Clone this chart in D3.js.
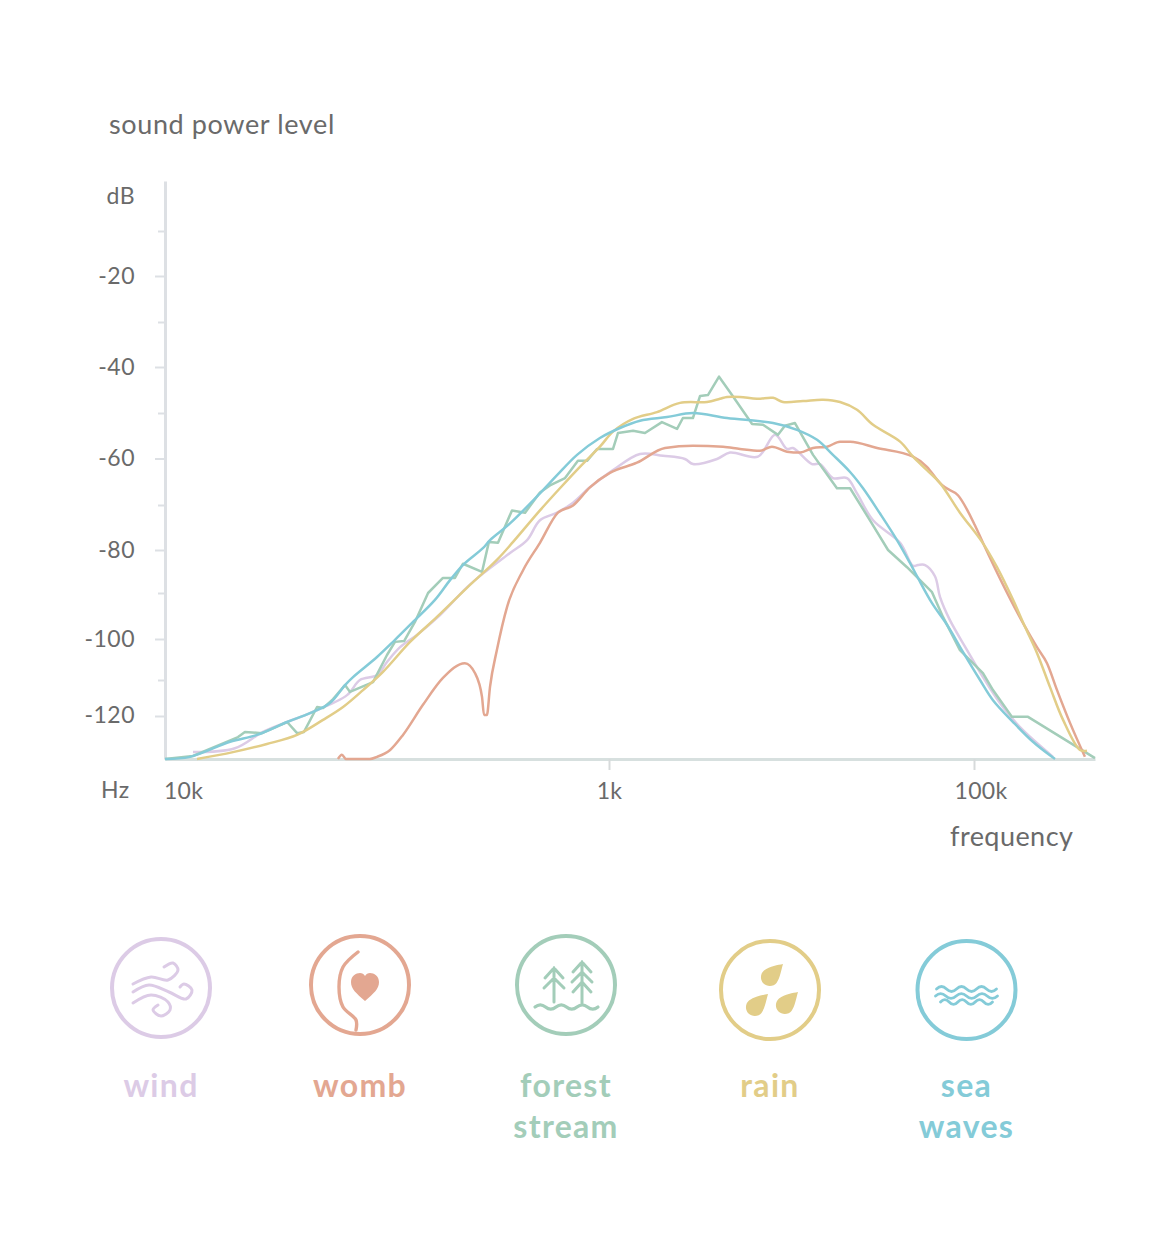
<!DOCTYPE html>
<html><head><meta charset="utf-8">
<script src="https://cdn.jsdelivr.net/npm/d3@7/dist/d3.min.js"></script>
<style>html,body{margin:0;background:#fff}svg{display:block}text{font-family:Lato,sans-serif}</style>
</head><body><div id="c"></div>
<script>
// x values are log10(Hz) positions, y values dB
const windX=[1.126,1.315,1.441,1.55,1.653,1.82,1.878,1.955,2,2.059,2.135,2.239,2.36,2.432,2.554,2.631,2.689,2.766,2.838,2.914,3.022,3.17,3.296,3.416,3.46,3.592,3.663,3.816,3.91,3.975,4.008,4.112,4.156,4.227,4.304,4.359,4.447,4.595,4.666,4.693,4.732,4.786,4.814,4.868,4.962,5.049,5.142,5.252,5.433];
const windDb=[-128.4,-127.5,-123.7,-121.4,-119.2,-114.2,-110,-108.8,-105.6,-102,-99.1,-94.8,-88.7,-85.5,-80.7,-77.8,-73.4,-71.7,-69.5,-66.2,-62.5,-59,-59.4,-60.1,-61.2,-60.1,-58.7,-59.6,-54.8,-57.9,-57.7,-61.2,-61.2,-64.2,-64.2,-67.5,-73.4,-78.4,-83.7,-83.5,-83.5,-86.1,-90.9,-95.9,-102.7,-109.3,-116.4,-122.6,-129.5];
const wombX=[1.779,1.797,1.815,1.923,1.955,2.014,2.072,2.162,2.252,2.351,2.396,2.428,2.437,2.45,2.464,2.495,2.541,2.613,2.689,2.77,2.838,2.914,3.005,3.153,3.307,3.46,3.625,3.718,3.827,3.893,3.975,4.047,4.118,4.195,4.266,4.321,4.469,4.666,4.742,4.814,4.841,4.912,5.005,5.049,5.268,5.345,5.4,5.455,5.526,5.608];
const wombDb=[-130,-129,-130,-130,-129.5,-127.9,-124.4,-116.9,-109.5,-105.9,-108.3,-114.7,-119.7,-119.7,-111.9,-102.7,-93,-84.7,-78.4,-71.7,-70.1,-66.2,-63.1,-60.9,-57.7,-57.2,-57.4,-57.9,-58.3,-57.4,-58.5,-58.7,-57.7,-57.4,-56.3,-56.3,-57.7,-59.6,-61.8,-65.3,-66.2,-67.9,-74.5,-78.4,-96.5,-102,-105.9,-112.8,-121.6,-129.5];
const forestX=[1,1.126,1.329,1.36,1.437,1.55,1.595,1.626,1.685,1.712,1.757,1.811,1.833,1.937,2,2.036,2.077,2.126,2.185,2.252,2.306,2.342,2.428,2.459,2.5,2.563,2.622,2.689,2.734,2.802,2.86,2.901,2.946,3.022,3.049,3.132,3.197,3.29,3.373,3.405,3.46,3.499,3.542,3.603,3.674,3.784,3.844,3.926,3.964,4.019,4.118,4.249,4.321,4.43,4.529,4.633,4.77,4.83,4.923,5.049,5.104,5.208,5.296,5.663];
const forestDb=[-130,-129.3,-124.9,-123.7,-124,-121.4,-124,-123.7,-117.5,-117.8,-115.3,-111.4,-113.3,-110.6,-103.9,-100.7,-100.5,-96.3,-90,-86.5,-86.5,-83.2,-85.1,-78.2,-78.4,-71.2,-71.7,-67.3,-65.8,-64.2,-60.5,-60.5,-57.9,-57.9,-54.4,-53.9,-54.4,-52,-53.5,-51.1,-51.1,-46.3,-46.1,-42.1,-46.1,-52.4,-52.6,-54.8,-52.8,-52.2,-59.2,-66.4,-66.4,-73.4,-80,-84,-89.8,-95.2,-102.7,-108.3,-112.8,-120.2,-120.2,-129.8];
const rainX=[1.144,1.306,1.459,1.595,1.712,1.802,1.892,1.982,2.104,2.225,2.36,2.495,2.568,2.689,2.779,2.869,2.959,3.022,3.132,3.263,3.389,3.537,3.608,3.647,3.718,3.811,3.899,3.953,4.063,4.173,4.266,4.359,4.447,4.595,4.666,4.742,4.814,4.923,5.044,5.126,5.214,5.28,5.345,5.416,5.488,5.581,5.619];
const rainDb=[-130,-128.4,-126.5,-124.4,-120.9,-117.5,-112.8,-108,-100.7,-95.2,-88.8,-82.3,-78.2,-71.2,-66.4,-61.8,-57.4,-54.1,-51.3,-49.8,-47.8,-47.6,-46.9,-46.5,-46.5,-46.9,-46.7,-47.6,-47.4,-47.1,-47.6,-49.3,-52.6,-56.3,-59.6,-62.5,-65.3,-71.7,-78.2,-84,-91.5,-97.4,-103.4,-111.9,-120.9,-127.9,-128.1];
const seaX=[1,1.113,1.293,1.414,1.55,1.653,1.743,1.811,1.847,1.955,2.036,2.117,2.216,2.284,2.342,2.432,2.464,2.554,2.689,2.766,2.856,2.959,3.06,3.17,3.318,3.46,3.647,3.899,4.03,4.14,4.227,4.321,4.392,4.485,4.578,4.649,4.693,4.77,4.852,4.94,5.033,5.104,5.214,5.323,5.427,5.444];
const seaDb=[-130,-129.5,-126,-124.4,-121.4,-119.2,-116.4,-111.4,-109.3,-104.4,-100.2,-96.3,-91.5,-87,-83.5,-79.6,-77.8,-74.1,-67.5,-63.6,-59.2,-55.5,-53.3,-51.7,-50.9,-50,-51.1,-52.2,-53.7,-55.9,-59.2,-62.9,-66.4,-71.9,-77.8,-83,-86.5,-92.2,-96.9,-103.2,-110,-115.6,-121.4,-126,-129.5,-130];

const seriesNames=["wind","forest","womb","rain","sea"];
const seriesColors=["#dccbe6","#a3cdb9","#e3a791","#e2cd88","#84cbd8"];
const seriesXs=[windX,forestX,wombX,rainX,seaX];
const seriesYs=[windDb,forestDb,wombDb,rainDb,seaDb];

const dbTicks=[-10,-20,-30,-40,-50,-60,-70,-80,-90,-100,-110,-120];
const dbLabels=[-20,-40,-60,-80,-100,-120];
const freqTicks=[1,3,5];
const freqLabels=["10k","1k","100k"];

const svg=d3.select("#c").append("svg").attr("width",1160).attr("height",1235);
const grey="#6a6a6a";

const x=d3.scaleLinear().domain([1,3,5,5.663]).range([165,609,974,1095]);
const y=d3.scaleLinear()
  .domain([1,-10,-20,-30,-40,-50,-60,-70,-80,-90,-100,-110,-120,-130])
  .range([181,231,276,322,367,413,458.5,505,550,593,639,680,716,759]);

// y axis
const ya=svg.append("g").attr("transform","translate(165,0)")
  .call(d3.axisLeft(y).tickValues(dbTicks).tickSize(5).tickSizeOuter(0).tickFormat(d=>dbLabels.includes(d)?d:""));
ya.select(".domain").attr("stroke","#dde0e4").attr("stroke-width",3);
ya.selectAll(".tick line").attr("stroke","#dde0e4").attr("stroke-width",2)
  .attr("x1",-1).attr("x2",d=>dbLabels.includes(d)?-10:-7);
ya.selectAll(".tick text").attr("x",-30).attr("dy",d=>d===-120?"-1.5px":"7px").attr("fill",grey)
  .attr("dy",d=>d===-120?"6px":"7px")
  .style("font-size","23px").style("letter-spacing","0.5px").style("font-family","Lato,sans-serif");

// x axis
const xa=svg.append("g").attr("transform","translate(0,759)")
  .call(d3.axisBottom(x).tickValues(freqTicks).tickSize(11).tickSizeOuter(0).tickFormat((d,i)=>freqLabels[i]));
xa.select(".domain").attr("stroke","#d7e0df").attr("stroke-width",3);
xa.selectAll(".tick line").attr("stroke","#d7dadb").attr("stroke-width",2).attr("opacity",d=>d===1?0:1);
xa.selectAll(".tick text").attr("y",32).attr("dy","0.36em").attr("dx",d=>d===1?18:d===3?0:6.5).attr("fill",grey)
  .style("font-size","23px").style("letter-spacing","0.3px").style("font-family","Lato,sans-serif");

// series
seriesNames.forEach((n,i)=>{
  const pts=seriesXs[i].map((v,k)=>[v,seriesYs[i][k]]);
  const curve=n==="forest"?d3.curveLinear:n==="womb"?d3.curveMonotoneX:d3.curveCatmullRom.alpha(0.5);
  const line=d3.line().x(d=>x(d[0])).y(d=>y(d[1])).curve(curve);
  svg.append("path").datum(pts).attr("d",line).attr("fill","none")
    .attr("stroke",seriesColors[i]).attr("stroke-width",2.5).attr("stroke-linejoin","round");
});

// titles
const label=(t,px,py,fs,anchor,fill,w,ls)=>svg.append("text").text(t).attr("x",px).attr("y",py)
  .attr("text-anchor",anchor||"start").attr("fill",fill||grey).attr("font-size",fs).attr("font-weight",w||400)
  .style("letter-spacing",(ls||0)+"px");
label("sound power level",109,134,27,"start",grey,400,0.62);
label("dB",135,204,23,"end",grey,400,0.4);
label("Hz",101,798,23,"start",grey,400,0.4);
label("frequency",950,846,27,"start",grey,400,0.45);

// legend
const legend=[
 {n:"wind",c:"#dccbe6",cx:161,cy:988,lines:["wind"],lx:161},
 {n:"womb",c:"#e3a791",cx:360,cy:985,lines:["womb"],lx:360},
 {n:"forest",c:"#a3cdb9",cx:566,cy:985,lines:["forest","stream"],lx:566},
 {n:"rain",c:"#e2cd88",cx:770,cy:990,lines:["rain"],lx:770},
 {n:"sea",c:"#84cbd8",cx:966.5,cy:990,lines:["sea","waves"],lx:966.5}
];
const drop="M13,-13C8,-12 0,-11 -6,-6.5C-10,-3 -10,3 -6.5,6.5C-3,10 4,9.5 6.5,6C10,1 11,-6 13,-13Z";
const wave=(x0,yy,n,w,a)=>{let s=`M${x0},${yy}`;for(let i=0;i<n;i++){s+=`q${w/4},${-a*2} ${w/2},0q${w/4},${a*2} ${w/2},0`;}return s;};
const icons={
 wind:g=>{
  const l=d3.line().curve(d3.curveCatmullRom);
  [[[-28,-4],[-10,-11],[7,-8],[17,-18],[12,-25],[3,-21]],
   [[-28,4],[-12,-3],[8,4],[25,11],[31,2],[23,-4],[19,-1]],
   [[-28,15],[-10,7],[7,14],[9,22],[0,28],[-8,22],[-3,17]]].forEach(p=>
     g.append("path").attr("d",l(p)).attr("fill","none").attr("stroke-width",3).attr("stroke-linecap","round"));
 },
 womb:g=>{
  const l=d3.line().curve(d3.curveCatmullRom);
  g.append("path").attr("d",l([[-2,-33],[-17,-18],[-21,2],[-17,22],[-4,35],[-4,45]])).attr("fill","none").attr("stroke-width",3.4).attr("stroke-linecap","round");
  g.append("path").attr("d","M5,16C-4,8 -9,4 -9,-3C-9,-9 -4,-12 0,-12C2,-12 4,-11 5,-9C6,-11 8,-12 10,-12C14,-12 19,-9 19,-3C19,4 14,8 5,16Z").attr("fill",g.attr("stroke")).attr("stroke","none");
 },
 forest:g=>{
  const p="M-12,-17V17M-21,-7L-12,-17L-3,-7M-22,3L-12,-7L-2,3M16,-23V18M7,-13L16,-23L25,-13M6,-3L16,-13L26,-3M7,7L16,-3L25,7";
  g.append("path").attr("d",p).attr("fill","none").attr("stroke-width",3).attr("stroke-linecap","round");
  g.append("path").attr("d",wave(-31,22,3,21,2.2)).attr("fill","none").attr("stroke-width",3.2).attr("stroke-linecap","round");
 },
 rain:g=>{
  [[0,-13],[-15,17],[15,15]].forEach(t=>g.append("path").attr("d",drop).attr("transform",`translate(${t[0]},${t[1]})`).attr("fill",g.attr("stroke")).attr("stroke","none"));
 },
 sea:g=>{
  [[-30,-1,60],[-31,6,62],[-26,12,52]].forEach(t=>g.append("path").attr("d",wave(t[0],t[1],3,t[2]/3,2.4)).attr("fill","none").attr("stroke-width",2.8).attr("stroke-linecap","round"));
 }
};
legend.forEach(d=>{
  const g=svg.append("g").attr("transform",`translate(${d.cx},${d.cy})`).attr("stroke",d.c);
  g.append("circle").attr("r",49).attr("fill","none").attr("stroke-width",4);
  icons[d.n](g);
  d.lines.forEach((t,i)=>label(t,d.lx,1097+i*41,32,"middle",d.c,700,1.3));
});
</script></body></html>
